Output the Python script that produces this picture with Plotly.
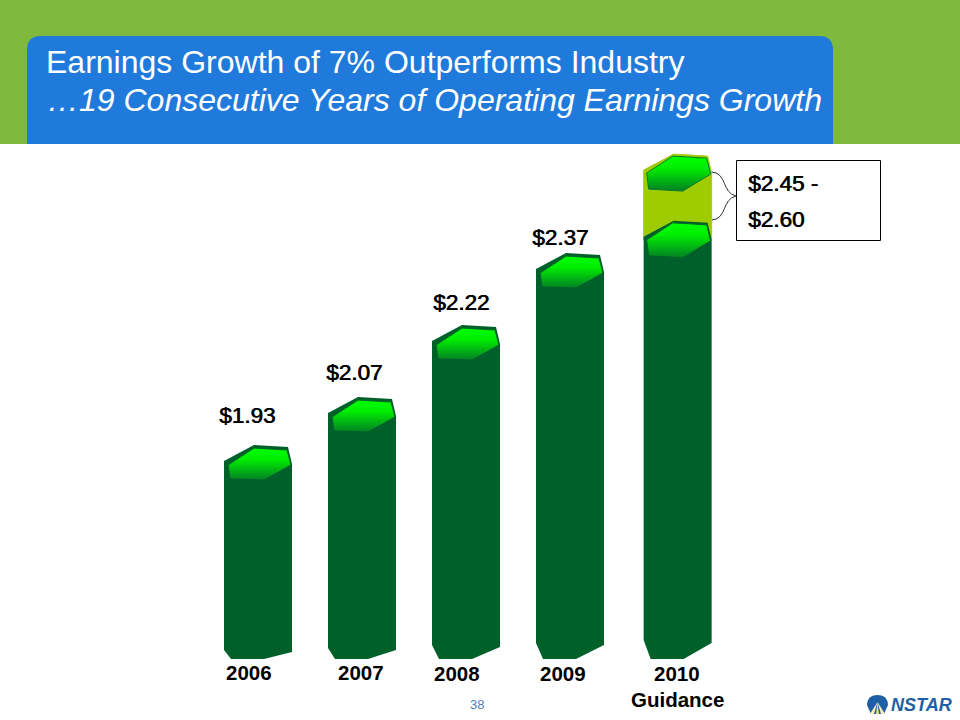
import plotly.graph_objects as go

# ---- data ----
years = ["2006", "2007", "2008", "2009", "2010"]
value_labels = ["$1.93", "$2.07", "$2.22", "$2.37"]
guidance_labels = ["$2.45 -", "$2.60"]
x_positions = [0, 1, 2, 3, 4.035]
# drawn heights of the columns as they appear in the picture
drawn_tops = [1.97, 2.07, 2.22, 2.37, 2.437]
drawn_guidance_top = 2.576
drawn_base = 1.5575
title_line1 = "Earnings Growth of 7% Outperforms Industry"
title_line2 = "…19 Consecutive Years of Operating Earnings Growth"

# ---- scales / styles ----
W, H = 960, 720
PX_PER_X = 104.0
PX_PER_Y = 480.0
X_RANGE = [-258 / PX_PER_X, (W - 258) / PX_PER_X]
Y_RANGE = [2.22 - (H - 341) / PX_PER_Y, 2.22 + 341 / PX_PER_Y]
BODY = "#00602A"
LIME = "#9FCC00"
LIME_EDGE = "#A8C81E"
FONT = "Liberation Sans"
right_rise = [7, 9, 12, 14, 16]
left_rise = [9, 11, 14, 16, 19]
OUTER = [(0, 0), (30, -16), (64, -14), (68, 3)]
INNER = [(4, 4), (30, -13), (63, -11), (67, 4), (40, 19), (6, 18)]
INNER_2010 = [(3, 3), (29, -14), (63, -12), (67, 4), (39, 21), (5, 19)]
GRAD = [[0, "#007F25"], [0.65, "#00EE00"], [1, "#00FF00"]]


def ox(xc, dx):
    return xc + (dx - 34) / PX_PER_X


def oy(v, dy):
    return v - dy / PX_PER_Y


def px(x, y):
    return x / W, 1 - y / H


def pth(*cmds):
    out = []
    for c in cmds:
        if isinstance(c, str):
            out.append(c)
        else:
            a, b = px(*c)
            out.append(f"{a:.5f},{b:.5f}")
    return " ".join(out)


fig = go.Figure()


def poly(xs, ys, color, line=None, lw=0, grad=None):
    tr = dict(x=xs + xs[:1], y=ys + ys[:1], mode="lines", fill="toself",
              line=dict(color=line or color, width=lw), hoverinfo="skip", showlegend=False)
    if grad:
        tr["fillgradient"] = dict(type="vertical", colorscale=grad)
    else:
        tr["fillcolor"] = color
    fig.add_trace(go.Scatter(**tr))


def hexagon(xc, top, line=BODY, tmpl=INNER):
    poly([ox(xc, d[0]) for d in tmpl], [oy(top, d[1]) for d in tmpl],
         "#00FF00", line=line, lw=1, grad=GRAD)


# guidance range segment behind the last column
xc = x_positions[4]
seg = OUTER + [(68, 70), (0, 70)]
poly([ox(xc, d[0]) for d in seg], [oy(drawn_guidance_top, d[1]) for d in seg], LIME, line=LIME_EDGE, lw=1)

# columns
for i, xc in enumerate(x_positions):
    top = drawn_tops[i]
    xs = [ox(xc, d[0]) for d in OUTER] + [ox(xc, 68), ox(xc, 40), ox(xc, 7), ox(xc, 0)]
    ys = [oy(top, d[1]) for d in OUTER] + [oy(drawn_base, -right_rise[i]), drawn_base, drawn_base,
                                           oy(drawn_base, -left_rise[i])]
    poly(xs, ys, BODY)
    hexagon(xc, top, tmpl=INNER_2010 if i == 4 else INNER)
hexagon(x_positions[4], drawn_guidance_top, line="#0B7A2A", tmpl=INNER_2010)

shapes = [
    dict(type="rect", xref="paper", yref="paper", x0=0, x1=1, y0=1 - 144 / H, y1=1,
         fillcolor="#7FBA3F", line_width=0, layer="below"),
    dict(type="path", xref="paper", yref="paper", layer="below", fillcolor="#1F7ADB", line_width=0,
         path="M" + pth((27, 144), "L", (27, 50), "Q", (27, 36), (41, 36), "L", (819, 36),
                        "Q", (833, 36), (833, 50), "L", (833, 144), "Z")),
    dict(type="rect", xref="paper", yref="paper", x0=736.5 / W, x1=880.5 / W,
         y0=1 - 240.5 / H, y1=1 - 160.5 / H, fillcolor="white", line=dict(color="black", width=1)),
    dict(type="path", xref="paper", yref="paper", line=dict(color="#303030", width=1),
         path="M" + pth((712, 172), "C", (727, 173), (722, 193), (736, 196),
                        "C", (722, 199), (727, 219), (712, 220))),
    # logo emblem
    dict(type="path", xref="paper", yref="paper", fillcolor="#1F5FA5", line_width=0,
         path="M" + pth((867, 705), "C", (867, 698), (872, 695), (877.5, 695),
                        "C", (883, 695), (888, 698), (888, 705), "L", (884, 714), "L", (871, 714), "Z")),
    dict(type="path", xref="paper", yref="paper", fillcolor="#F4F0C0", line_width=0,
         path="M" + pth((877.5, 702), "L", (870, 714), "L", (874, 714), "Z")),
    dict(type="path", xref="paper", yref="paper", fillcolor="#E8E070", line_width=0,
         path="M" + pth((877.5, 702), "L", (876, 714), "L", (879, 714), "Z")),
    dict(type="path", xref="paper", yref="paper", fillcolor="#F4F0C0", line_width=0,
         path="M" + pth((877.5, 702), "L", (881, 714), "L", (885, 714), "Z")),
]


def label(text, x, y, size, color="black", bold=False, italic=False, anchor="center", shadow=None):
    a, b = px(x, y)
    fnt = dict(family=FONT, size=size, color=color, weight="bold" if bold else "normal",
               style="italic" if italic else "normal")
    if shadow:
        fnt["shadow"] = shadow
    return dict(text=text, xref="paper", yref="paper", x=a, y=b, xanchor=anchor, yanchor="middle",
                showarrow=False, font=fnt, borderpad=0)


STROKE = "0.7px 0 0 #000"
anns = [
    label(title_line1, 45, 62, 32, color="white", anchor="left"),
    label(title_line2, 46, 100, 32, color="white", italic=True, anchor="left"),
]
for t, x, y in zip(value_labels, [247, 354, 461, 560], [416, 372, 302, 238]):
    anns.append(label(t, x, y, 22.5, shadow=STROKE))
for t, y in zip(guidance_labels, [183, 219]):
    anns.append(label(t, 747, y, 22.5, anchor="left", shadow=STROKE))
for t, x, y in zip(years, [249, 361, 457, 563, 677], [672, 672, 673, 673, 673]):
    anns.append(label(t, x, y, 20.5, bold=True))
anns.append(label("Guidance", 677, 699, 20.5, bold=True))
anns.append(label("38", 477, 704, 13, color="#4F81BD"))
anns.append(label("NSTAR", 921, 705, 18, color="#1F5FA5", bold=True, italic=True))

fig.update_layout(
    width=W, height=H, margin=dict(l=0, r=0, t=0, b=0, pad=0), autosize=False,
    paper_bgcolor="white", plot_bgcolor="rgba(0,0,0,0)", showlegend=False,
    xaxis=dict(range=X_RANGE, visible=False, fixedrange=True),
    yaxis=dict(range=Y_RANGE, visible=False, fixedrange=True),
    shapes=shapes, annotations=anns,
)
fig.write_html("out.html", config=dict(displayModeBar=False),
               post_script="document.body.style.margin='0';document.body.style.overflow='hidden';")
